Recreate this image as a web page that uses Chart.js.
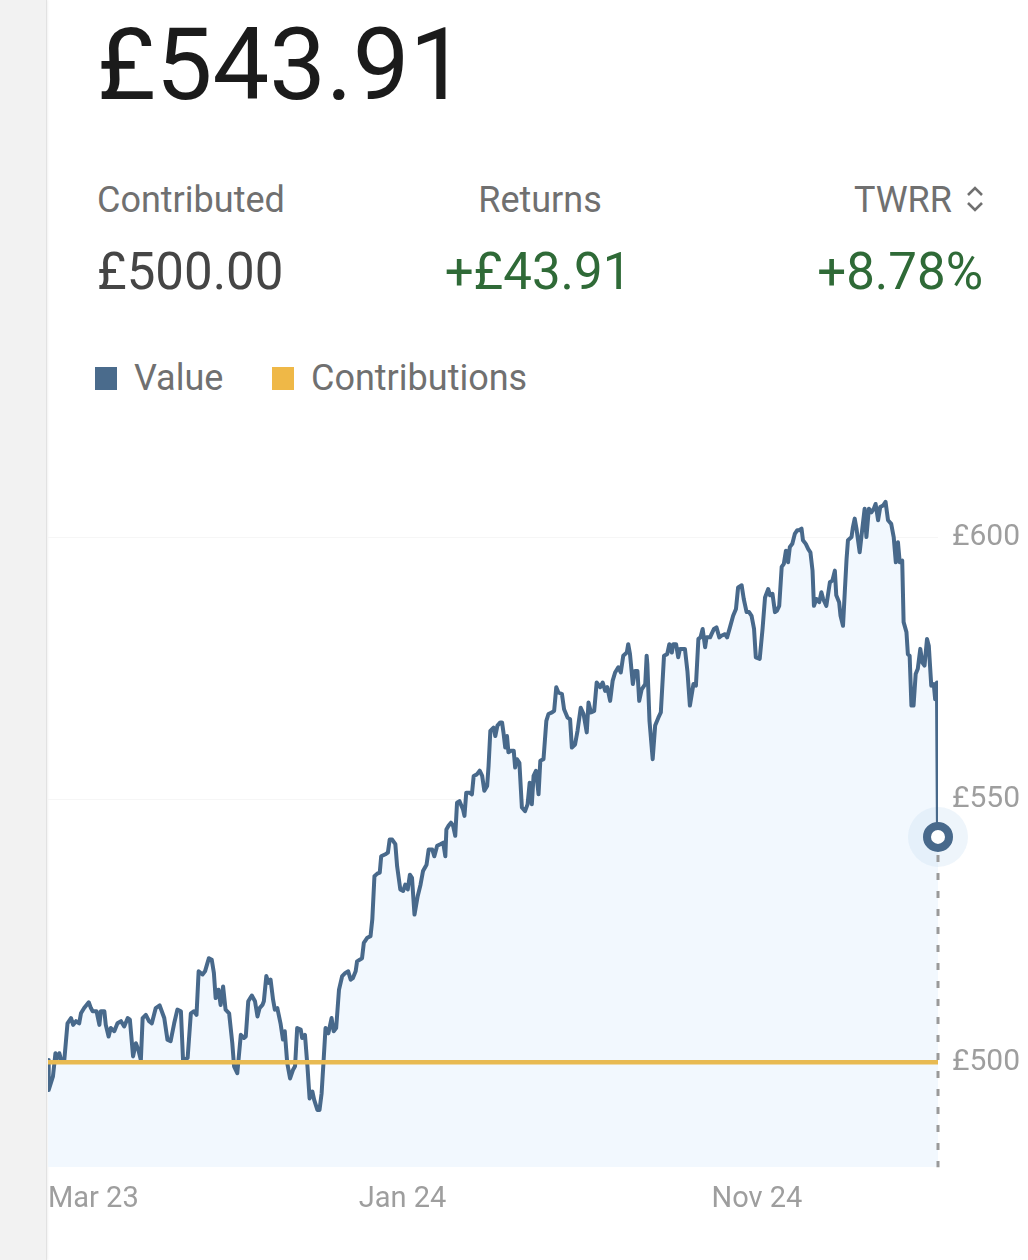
<!DOCTYPE html>
<html>
<head>
<meta charset="utf-8">
<script src="https://cdn.jsdelivr.net/npm/chart.js@4.4.1/dist/chart.umd.min.js"></script>
<style>
  html, body { margin: 0; padding: 0; }
  body { width: 1028px; height: 1260px; background: #fff; position: relative; overflow: hidden; font-family: Roboto, "Noto Sans", sans-serif; }
  .side { position: absolute; left: 0; top: 0; width: 46px; height: 1260px; background: #f2f2f2; border-right: 1px solid #e2e2e2; box-shadow: 1px 0 2px rgba(0,0,0,0.06); }
  .t { position: absolute; line-height: 1; white-space: nowrap; }
  .title { left: 97px; top: 14px; font-size: 101px; color: #1b1b1b; }
  .lbl { font-size: 36px; color: #707070; top: 182px; }
  .val { font-size: 51px; top: 246px; }
  .green { color: #2f6a37; }
  .legend { top: 360px; font-size: 36px; color: #707070; }
  .sq { position: absolute; top: 367px; width: 22px; height: 23px; }
  #chartWrap { position: absolute; left: 18px; top: 400px; width: 1010px; height: 837px; }
</style>
</head>
<body>
<div class="side"></div>

<div class="t title">£543.91</div>

<div class="t lbl" style="left:97px;">Contributed</div>
<div class="t lbl" style="left:340px;width:400px;text-align:center;">Returns</div>
<div class="t lbl" style="right:76px;">TWRR</div>
<svg style="position:absolute;left:964px;top:184px;" width="22" height="30" viewBox="0 0 22 30">
  <polyline points="4,11 11,4 18,11" fill="none" stroke="#707070" stroke-width="2.6"/>
  <polyline points="4,19 11,26 18,19" fill="none" stroke="#707070" stroke-width="2.6"/>
</svg>

<div class="t val" style="left:97px;color:#454545;">£500.00</div>
<div class="t val green" style="left:338px;width:400px;text-align:center;">+£43.91</div>
<div class="t val green" style="right:45px;">+8.78%</div>

<div class="sq" style="left:95px;background:#4a6b8c;"></div>
<div class="t legend" style="left:134px;">Value</div>
<div class="sq" style="left:272px;background:#efb847;"></div>
<div class="t legend" style="left:311px;">Contributions</div>

<div id="chartWrap"><canvas id="valueChart"></canvas></div>

<script>
// months since Mar 2023, portfolio value (£)
const valueSeries = [
    [0.00,500.4],[0.02,494.7],[0.14,497.3],[0.21,501.7],[0.27,500.8],[0.32,501.7],[0.37,500.4],[0.46,500.4],
    [0.55,507.4],[0.65,508.4],[0.71,507.1],[0.79,507.8],[0.88,507.4],[0.93,509.3],[1.02,510.3],[1.15,511.4],
    [1.21,510.3],[1.26,509.7],[1.37,509.7],[1.45,507.1],[1.49,509.7],[1.59,509.7],[1.63,507.1],[1.71,504.9],
    [1.77,506.5],[1.87,505.9],[1.96,507.4],[2.06,507.8],[2.15,506.8],[2.25,508.4],[2.31,508.1],[2.40,501.1],
    [2.48,503.6],[2.55,502.3],[2.62,500.4],[2.67,508.4],[2.76,509.0],[2.85,507.8],[2.93,507.4],[3.04,510.3],
    [3.15,510.8],[3.28,508.4],[3.37,504.3],[3.46,504.0],[3.56,507.4],[3.65,510.0],[3.75,509.7],[3.81,500.4],
    [3.94,500.8],[4.03,509.3],[4.12,509.7],[4.19,509.0],[4.25,517.3],[4.36,516.7],[4.43,517.3],[4.50,518.9],
    [4.54,519.8],[4.62,519.5],[4.68,517.0],[4.73,512.2],[4.81,513.8],[4.87,510.9],[4.94,514.4],[5.01,510.0],
    [5.11,509.3],[5.20,503.6],[5.25,499.2],[5.34,497.9],[5.44,505.2],[5.53,504.6],[5.58,504.9],[5.65,511.6],
    [5.75,512.7],[5.84,511.6],[5.91,508.7],[5.97,510.3],[6.05,510.9],[6.09,511.6],[6.16,516.4],[6.22,515.1],
    [6.28,515.7],[6.35,511.9],[6.40,510.0],[6.47,510.3],[6.56,507.4],[6.63,504.3],[6.68,505.9],[6.75,499.8],
    [6.83,496.9],[6.91,498.5],[6.97,499.2],[7.03,506.5],[7.13,506.2],[7.17,504.6],[7.25,505.2],[7.32,499.2],
    [7.38,493.1],[7.46,494.4],[7.51,492.8],[7.60,490.9],[7.66,490.9],[7.72,494.1],[7.78,500.8],[7.83,506.5],
    [7.91,505.5],[8.00,508.4],[8.06,505.9],[8.13,506.5],[8.21,513.8],[8.30,516.4],[8.39,517.0],[8.47,517.3],
    [8.54,515.7],[8.60,516.0],[8.68,517.3],[8.72,519.2],[8.86,519.8],[8.91,522.7],[9.01,523.7],[9.10,524.0],
    [9.15,527.2],[9.21,535.4],[9.29,535.9],[9.36,536.1],[9.40,539.2],[9.52,539.6],[9.59,539.9],[9.64,542.4],
    [9.71,542.4],[9.80,541.5],[9.85,537.3],[9.94,532.9],[10.02,532.6],[10.08,533.8],[10.15,532.9],[10.21,535.7],
    [10.27,535.1],[10.34,528.1],[10.43,531.6],[10.51,533.8],[10.58,536.4],[10.68,537.6],[10.74,540.5],[10.84,540.5],
    [10.90,539.2],[10.98,541.2],[11.07,541.5],[11.15,541.8],[11.21,539.2],[11.24,544.3],[11.30,545.0],[11.37,545.6],
    [11.43,545.0],[11.49,543.1],[11.54,549.4],[11.61,549.7],[11.71,548.1],[11.75,546.9],[11.80,551.3],[11.90,551.3],
    [11.96,551.0],[12.01,554.5],[12.10,554.8],[12.18,555.5],[12.25,554.5],[12.31,551.7],[12.39,552.6],[12.43,556.4],
    [12.48,563.1],[12.57,563.7],[12.62,562.1],[12.68,564.1],[12.76,564.7],[12.81,564.7],[12.85,562.8],[12.90,559.9],
    [12.95,562.1],[12.99,559.0],[13.06,559.3],[13.14,559.3],[13.18,556.1],[13.23,557.7],[13.30,557.0],[13.37,548.5],
    [13.46,547.8],[13.53,549.1],[13.59,553.2],[13.65,549.1],[13.70,554.5],[13.77,555.5],[13.84,551.0],[13.89,557.4],
    [13.98,557.7],[14.06,565.0],[14.12,566.3],[14.22,566.6],[14.28,566.9],[14.34,571.4],[14.40,570.4],[14.50,570.1],
    [14.56,567.2],[14.66,565.6],[14.73,565.3],[14.78,559.9],[14.87,560.5],[14.94,563.1],[15.03,567.5],[15.11,566.3],
    [15.20,562.8],[15.25,568.5],[15.32,566.6],[15.41,566.9],[15.48,572.3],[15.58,571.4],[15.65,572.3],[15.72,570.7],
    [15.78,571.4],[15.86,568.8],[15.93,572.6],[16.00,574.2],[16.09,575.2],[16.16,574.2],[16.23,577.4],[16.33,578.0],
    [16.37,579.6],[16.42,577.7],[16.50,572.0],[16.56,574.5],[16.63,574.5],[16.68,568.8],[16.75,571.0],[16.85,572.0],
    [16.89,577.4],[16.91,575.8],[16.97,565.0],[17.06,557.7],[17.13,564.1],[17.22,565.6],[17.29,566.6],[17.38,577.4],
    [17.47,577.7],[17.53,579.6],[17.60,578.0],[17.64,579.6],[17.72,579.6],[17.78,577.1],[17.83,578.7],[17.97,578.7],
    [18.04,574.5],[18.11,567.9],[18.21,572.0],[18.28,571.7],[18.35,580.6],[18.41,580.9],[18.47,582.5],[18.54,579.0],
    [18.58,580.9],[18.68,580.9],[18.72,581.5],[18.79,582.5],[18.86,582.8],[18.94,580.9],[19.00,581.2],[19.10,581.5],
    [19.16,580.9],[19.24,582.8],[19.33,585.0],[19.41,586.3],[19.47,590.4],[19.57,590.8],[19.63,588.2],[19.71,585.7],
    [19.78,585.7],[19.85,585.0],[19.92,582.5],[19.97,577.1],[20.08,576.8],[20.16,582.5],[20.23,588.5],[20.32,590.1],
    [20.37,588.9],[20.44,589.2],[20.51,585.7],[20.57,586.0],[20.63,586.9],[20.70,594.3],[20.76,594.9],[20.82,597.4],
    [20.88,595.2],[20.93,598.1],[21.00,598.7],[21.07,600.6],[21.14,601.3],[21.19,601.3],[21.26,601.6],[21.30,599.4],
    [21.38,598.7],[21.45,597.7],[21.51,597.1],[21.57,593.6],[21.61,586.9],[21.68,588.2],[21.76,587.6],[21.82,589.5],
    [21.87,588.2],[21.96,586.9],[22.06,591.4],[22.13,591.7],[22.20,593.6],[22.24,588.9],[22.32,587.6],[22.36,585.0],
    [22.43,583.1],[22.48,589.5],[22.53,595.8],[22.57,599.4],[22.67,600.0],[22.71,601.9],[22.76,603.5],[22.81,601.6],
    [22.90,597.1],[22.98,601.9],[23.04,605.4],[23.09,600.0],[23.16,605.4],[23.23,604.7],[23.30,605.4],[23.35,606.3],
    [23.42,603.2],[23.48,605.7],[23.56,606.0],[23.63,606.7],[23.70,603.2],[23.79,602.5],[23.86,600.0],[23.92,595.2],
    [23.98,599.0],[24.03,595.2],[24.10,595.5],[24.14,583.8],[24.22,581.9],[24.26,577.7],[24.31,577.4],[24.36,567.9],
    [24.42,567.9],[24.48,573.9],[24.54,574.9],[24.61,578.7],[24.67,576.1],[24.73,575.5],[24.80,580.6],[24.85,579.3],
    [24.92,571.7],[24.99,572.0],[25.03,569.1],[25.08,572.3],[25.11,542.9]
];

const contributionSeries = [[0, 500], [25.11, 500]];
const latestPoint = [[25.11, 542.9]];
const latestDropLine = [[25.11, 542.9], [25.11, 480]];

const xTickMonths = [0, 10, 20, 25.11];
const xTickLabels = ['Mar 23', 'Jan 24', 'Nov 24', ''];
const yTickValues = [500, 550, 600];

const toXY = arr => arr.map(p => ({ x: p[0], y: p[1] }));

const blue = '#48698b';
const grey = '#9e9e9e';

const ctx = document.getElementById('valueChart').getContext('2d');
new Chart(ctx, {
    type: 'line',
    data: {
        datasets: [
            {
                label: 'latest',
                data: toXY(latestPoint),
                pointRadius: 11,
                pointBorderWidth: 8,
                pointBackgroundColor: '#ffffff',
                pointBorderColor: blue,
                showLine: false,
                clip: false,
            },
            {
                label: 'Contributions',
                data: toXY(contributionSeries),
                borderColor: '#e8ba52',
                borderWidth: 4.5,
                pointRadius: 0,
                fill: false,
            },
            {
                label: 'drop',
                data: toXY(latestDropLine),
                borderColor: '#9a9a9a',
                borderWidth: 3,
                borderDash: [7, 11],
                pointRadius: 0,
                fill: false,
                clip: false,
            },
            {
                label: 'Value',
                data: toXY(valueSeries),
                borderColor: blue,
                borderWidth: 4,
                borderJoinStyle: 'round',
                pointRadius: 0,
                tension: 0,
                fill: 'start',
                backgroundColor: '#f2f8fe',
            },
            {
                label: 'halo',
                data: toXY(latestPoint),
                pointRadius: 30,
                pointBorderWidth: 0,
                pointBackgroundColor: 'rgba(200,222,243,0.3)',
                showLine: false,
                clip: false,
            },
        ]
    },
    options: {
        responsive: true,
        maintainAspectRatio: false,
        animation: false,
        devicePixelRatio: 1,
        events: [],
        layout: { padding: { top: 32, bottom: 13, left: 0, right: 0 } },
        plugins: {
            legend: { display: false },
            tooltip: { enabled: false },
            filler: { drawTime: 'beforeDatasetsDraw' },
        },
        scales: {
            x: {
                type: 'linear',
                min: 0,
                max: 25.11,
                grid: { display: false },
                border: { display: false },
                afterBuildTicks: scale => {
                    scale.ticks = xTickMonths.map(v => ({ value: v }));
                },
                ticks: {
                    autoSkip: false,
                    maxRotation: 0,
                    align: 'inner',
                    padding: 7,
                    color: grey,
                    font: { family: 'Roboto', size: 29 },
                    callback: (value, index) => xTickLabels[index],
                },
            },
            y: {
                position: 'right',
                min: 480,
                max: 620,
                border: { display: false },
                grid: { color: '#f6f6f6', drawTicks: false },
                afterBuildTicks: scale => {
                    scale.ticks = yTickValues.map(v => ({ value: v }));
                },
                afterFit: scale => { scale.width = 90; },
                ticks: {
                    padding: 14,
                    color: grey,
                    font: { family: 'Roboto', size: 30 },
                    callback: value => '£' + value,
                },
            },
        },
    },
});
</script>
</body>
</html>
